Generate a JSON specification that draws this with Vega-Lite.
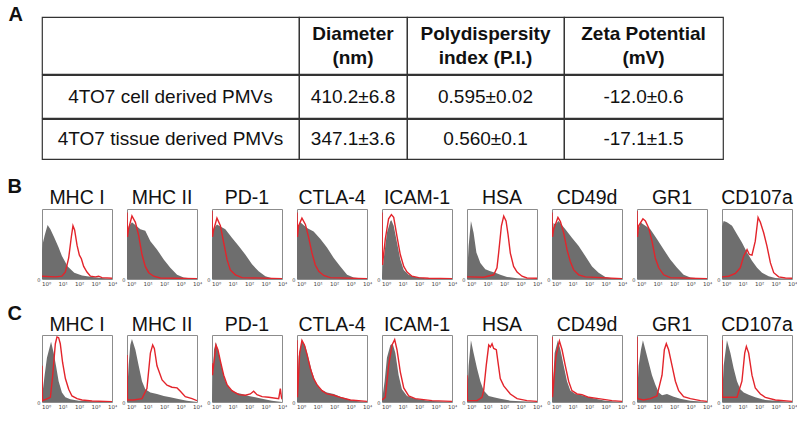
{
"$schema": "https://vega.github.io/schema/vega-lite/v6.json",
"padding": {"left": 7, "top": 5, "right": 0, "bottom": 0},
"spacing": 16,
"datasets": {
"table": [
{"row": "header", "col": "sample", "text": ""},
{"row": "header", "col": "diameter", "text": "Diameter\n(nm)"},
{"row": "header", "col": "pdi", "text": "Polydispersity\nindex (P.I.)"},
{"row": "header", "col": "zeta", "text": "Zeta Potential\n(mV)"},
{"row": "cell", "col": "sample", "text": "4TO7 cell derived PMVs"},
{"row": "cell", "col": "diameter", "text": "410.2±6.8"},
{"row": "cell", "col": "pdi", "text": "0.595±0.02"},
{"row": "cell", "col": "zeta", "text": "-12.0±0.6"},
{"row": "tissue", "col": "sample", "text": "4TO7 tissue derived PMVs"},
{"row": "tissue", "col": "diameter", "text": "347.1±3.6"},
{"row": "tissue", "col": "pdi", "text": "0.560±0.1"},
{"row": "tissue", "col": "zeta", "text": "-17.1±1.5"}
],
"hist": [
{"panel":"B","marker":"MHC I","series":"isotype","logx":-0.25,"pct":40},
{"panel":"B","marker":"MHC I","series":"isotype","logx":-0.21,"pct":50},
{"panel":"B","marker":"MHC I","series":"isotype","logx":-0.09,"pct":62},
{"panel":"B","marker":"MHC I","series":"isotype","logx":0.09,"pct":77},
{"panel":"B","marker":"MHC I","series":"isotype","logx":0.26,"pct":71},
{"panel":"B","marker":"MHC I","series":"isotype","logx":0.5,"pct":59},
{"panel":"B","marker":"MHC I","series":"isotype","logx":0.76,"pct":45},
{"panel":"B","marker":"MHC I","series":"isotype","logx":0.96,"pct":33},
{"panel":"B","marker":"MHC I","series":"isotype","logx":1.31,"pct":18},
{"panel":"B","marker":"MHC I","series":"isotype","logx":1.71,"pct":9},
{"panel":"B","marker":"MHC I","series":"isotype","logx":2.18,"pct":5},
{"panel":"B","marker":"MHC I","series":"isotype","logx":2.79,"pct":3},
{"panel":"B","marker":"MHC I","series":"isotype","logx":3.39,"pct":1.5},
{"panel":"B","marker":"MHC I","series":"isotype","logx":4,"pct":0},
{"panel":"B","marker":"MHC I","series":"PMV","logx":-0.25,"pct":4},
{"panel":"B","marker":"MHC I","series":"PMV","logx":0.56,"pct":3},
{"panel":"B","marker":"MHC I","series":"PMV","logx":0.96,"pct":4},
{"panel":"B","marker":"MHC I","series":"PMV","logx":1.17,"pct":10},
{"panel":"B","marker":"MHC I","series":"PMV","logx":1.37,"pct":30},
{"panel":"B","marker":"MHC I","series":"PMV","logx":1.53,"pct":60},
{"panel":"B","marker":"MHC I","series":"PMV","logx":1.63,"pct":76},
{"panel":"B","marker":"MHC I","series":"PMV","logx":1.73,"pct":70},
{"panel":"B","marker":"MHC I","series":"PMV","logx":1.88,"pct":48},
{"panel":"B","marker":"MHC I","series":"PMV","logx":2.02,"pct":34},
{"panel":"B","marker":"MHC I","series":"PMV","logx":2.14,"pct":29},
{"panel":"B","marker":"MHC I","series":"PMV","logx":2.28,"pct":18},
{"panel":"B","marker":"MHC I","series":"PMV","logx":2.48,"pct":10},
{"panel":"B","marker":"MHC I","series":"PMV","logx":2.69,"pct":4},
{"panel":"B","marker":"MHC I","series":"PMV","logx":2.99,"pct":3},
{"panel":"B","marker":"MHC I","series":"PMV","logx":3.19,"pct":4},
{"panel":"B","marker":"MHC I","series":"PMV","logx":3.39,"pct":2},
{"panel":"B","marker":"MHC I","series":"PMV","logx":4,"pct":1},

{"panel":"B","marker":"MHC II","series":"isotype","logx":-0.25,"pct":60},
{"panel":"B","marker":"MHC II","series":"isotype","logx":-0.15,"pct":75},
{"panel":"B","marker":"MHC II","series":"isotype","logx":0.05,"pct":81},
{"panel":"B","marker":"MHC II","series":"isotype","logx":0.56,"pct":71},
{"panel":"B","marker":"MHC II","series":"isotype","logx":0.86,"pct":69},
{"panel":"B","marker":"MHC II","series":"isotype","logx":1.17,"pct":54},
{"panel":"B","marker":"MHC II","series":"isotype","logx":1.57,"pct":42},
{"panel":"B","marker":"MHC II","series":"isotype","logx":1.98,"pct":28},
{"panel":"B","marker":"MHC II","series":"isotype","logx":2.38,"pct":16},
{"panel":"B","marker":"MHC II","series":"isotype","logx":2.79,"pct":6},
{"panel":"B","marker":"MHC II","series":"isotype","logx":3.19,"pct":2},
{"panel":"B","marker":"MHC II","series":"isotype","logx":4,"pct":0},
{"panel":"B","marker":"MHC II","series":"PMV","logx":-0.25,"pct":95},
{"panel":"B","marker":"MHC II","series":"PMV","logx":-0.22,"pct":60},
{"panel":"B","marker":"MHC II","series":"PMV","logx":-0.15,"pct":72},
{"panel":"B","marker":"MHC II","series":"PMV","logx":0.05,"pct":90},
{"panel":"B","marker":"MHC II","series":"PMV","logx":0.26,"pct":81},
{"panel":"B","marker":"MHC II","series":"PMV","logx":0.46,"pct":62},
{"panel":"B","marker":"MHC II","series":"PMV","logx":0.66,"pct":35},
{"panel":"B","marker":"MHC II","series":"PMV","logx":0.86,"pct":18},
{"panel":"B","marker":"MHC II","series":"PMV","logx":1.07,"pct":9},
{"panel":"B","marker":"MHC II","series":"PMV","logx":1.37,"pct":4},
{"panel":"B","marker":"MHC II","series":"PMV","logx":1.77,"pct":1.5},
{"panel":"B","marker":"MHC II","series":"PMV","logx":4,"pct":0.5},

{"panel":"B","marker":"PD-1","series":"isotype","logx":-0.25,"pct":55},
{"panel":"B","marker":"PD-1","series":"isotype","logx":-0.15,"pct":72},
{"panel":"B","marker":"PD-1","series":"isotype","logx":0.05,"pct":78},
{"panel":"B","marker":"PD-1","series":"isotype","logx":0.56,"pct":71},
{"panel":"B","marker":"PD-1","series":"isotype","logx":0.96,"pct":59},
{"panel":"B","marker":"PD-1","series":"isotype","logx":1.37,"pct":47},
{"panel":"B","marker":"PD-1","series":"isotype","logx":1.77,"pct":35},
{"panel":"B","marker":"PD-1","series":"isotype","logx":2.18,"pct":21},
{"panel":"B","marker":"PD-1","series":"isotype","logx":2.58,"pct":11},
{"panel":"B","marker":"PD-1","series":"isotype","logx":2.99,"pct":4},
{"panel":"B","marker":"PD-1","series":"isotype","logx":3.39,"pct":1},
{"panel":"B","marker":"PD-1","series":"isotype","logx":4,"pct":0},
{"panel":"B","marker":"PD-1","series":"PMV","logx":-0.25,"pct":97},
{"panel":"B","marker":"PD-1","series":"PMV","logx":-0.22,"pct":60},
{"panel":"B","marker":"PD-1","series":"PMV","logx":-0.15,"pct":70},
{"panel":"B","marker":"PD-1","series":"PMV","logx":0.05,"pct":87},
{"panel":"B","marker":"PD-1","series":"PMV","logx":0.26,"pct":76},
{"panel":"B","marker":"PD-1","series":"PMV","logx":0.46,"pct":52},
{"panel":"B","marker":"PD-1","series":"PMV","logx":0.66,"pct":28},
{"panel":"B","marker":"PD-1","series":"PMV","logx":0.86,"pct":13},
{"panel":"B","marker":"PD-1","series":"PMV","logx":1.17,"pct":6},
{"panel":"B","marker":"PD-1","series":"PMV","logx":1.57,"pct":2},
{"panel":"B","marker":"PD-1","series":"PMV","logx":4,"pct":0.5},

{"panel":"B","marker":"CTLA-4","series":"isotype","logx":-0.25,"pct":60},
{"panel":"B","marker":"CTLA-4","series":"isotype","logx":-0.15,"pct":75},
{"panel":"B","marker":"CTLA-4","series":"isotype","logx":-0.05,"pct":81},
{"panel":"B","marker":"CTLA-4","series":"isotype","logx":0.36,"pct":73},
{"panel":"B","marker":"CTLA-4","series":"isotype","logx":0.76,"pct":68},
{"panel":"B","marker":"CTLA-4","series":"isotype","logx":1.17,"pct":57},
{"panel":"B","marker":"CTLA-4","series":"isotype","logx":1.57,"pct":45},
{"panel":"B","marker":"CTLA-4","series":"isotype","logx":1.98,"pct":30},
{"panel":"B","marker":"CTLA-4","series":"isotype","logx":2.38,"pct":18},
{"panel":"B","marker":"CTLA-4","series":"isotype","logx":2.79,"pct":6},
{"panel":"B","marker":"CTLA-4","series":"isotype","logx":3.19,"pct":2},
{"panel":"B","marker":"CTLA-4","series":"isotype","logx":4,"pct":0},
{"panel":"B","marker":"CTLA-4","series":"PMV","logx":-0.25,"pct":95},
{"panel":"B","marker":"CTLA-4","series":"PMV","logx":-0.22,"pct":60},
{"panel":"B","marker":"CTLA-4","series":"PMV","logx":-0.15,"pct":76},
{"panel":"B","marker":"CTLA-4","series":"PMV","logx":0.05,"pct":87},
{"panel":"B","marker":"CTLA-4","series":"PMV","logx":0.26,"pct":78},
{"panel":"B","marker":"CTLA-4","series":"PMV","logx":0.46,"pct":59},
{"panel":"B","marker":"CTLA-4","series":"PMV","logx":0.66,"pct":37},
{"panel":"B","marker":"CTLA-4","series":"PMV","logx":0.86,"pct":20},
{"panel":"B","marker":"CTLA-4","series":"PMV","logx":1.07,"pct":11},
{"panel":"B","marker":"CTLA-4","series":"PMV","logx":1.37,"pct":5},
{"panel":"B","marker":"CTLA-4","series":"PMV","logx":1.77,"pct":2},
{"panel":"B","marker":"CTLA-4","series":"PMV","logx":4,"pct":0.5},

{"panel":"B","marker":"ICAM-1","series":"isotype","logx":-0.25,"pct":4},
{"panel":"B","marker":"ICAM-1","series":"isotype","logx":-0.15,"pct":28},
{"panel":"B","marker":"ICAM-1","series":"isotype","logx":0.05,"pct":66},
{"panel":"B","marker":"ICAM-1","series":"isotype","logx":0.26,"pct":83},
{"panel":"B","marker":"ICAM-1","series":"isotype","logx":0.32,"pct":84},
{"panel":"B","marker":"ICAM-1","series":"isotype","logx":0.46,"pct":76},
{"panel":"B","marker":"ICAM-1","series":"isotype","logx":0.66,"pct":52},
{"panel":"B","marker":"ICAM-1","series":"isotype","logx":0.86,"pct":28},
{"panel":"B","marker":"ICAM-1","series":"isotype","logx":1.07,"pct":13},
{"panel":"B","marker":"ICAM-1","series":"isotype","logx":1.37,"pct":6},
{"panel":"B","marker":"ICAM-1","series":"isotype","logx":1.77,"pct":3},
{"panel":"B","marker":"ICAM-1","series":"isotype","logx":2.38,"pct":1},
{"panel":"B","marker":"ICAM-1","series":"isotype","logx":4,"pct":0},
{"panel":"B","marker":"ICAM-1","series":"PMV","logx":-0.25,"pct":95},
{"panel":"B","marker":"ICAM-1","series":"PMV","logx":-0.22,"pct":20},
{"panel":"B","marker":"ICAM-1","series":"PMV","logx":-0.05,"pct":57},
{"panel":"B","marker":"ICAM-1","series":"PMV","logx":0.15,"pct":86},
{"panel":"B","marker":"ICAM-1","series":"PMV","logx":0.32,"pct":92},
{"panel":"B","marker":"ICAM-1","series":"PMV","logx":0.46,"pct":88},
{"panel":"B","marker":"ICAM-1","series":"PMV","logx":0.66,"pct":61},
{"panel":"B","marker":"ICAM-1","series":"PMV","logx":0.86,"pct":35},
{"panel":"B","marker":"ICAM-1","series":"PMV","logx":1.07,"pct":18},
{"panel":"B","marker":"ICAM-1","series":"PMV","logx":1.27,"pct":10},
{"panel":"B","marker":"ICAM-1","series":"PMV","logx":1.57,"pct":4},
{"panel":"B","marker":"ICAM-1","series":"PMV","logx":1.98,"pct":2},
{"panel":"B","marker":"ICAM-1","series":"PMV","logx":2.58,"pct":1},
{"panel":"B","marker":"ICAM-1","series":"PMV","logx":4,"pct":0.5},

{"panel":"B","marker":"HSA","series":"isotype","logx":-0.25,"pct":4},
{"panel":"B","marker":"HSA","series":"isotype","logx":-0.15,"pct":47},
{"panel":"B","marker":"HSA","series":"isotype","logx":-0.01,"pct":83},
{"panel":"B","marker":"HSA","series":"isotype","logx":0.15,"pct":66},
{"panel":"B","marker":"HSA","series":"isotype","logx":0.32,"pct":38},
{"panel":"B","marker":"HSA","series":"isotype","logx":0.56,"pct":23},
{"panel":"B","marker":"HSA","series":"isotype","logx":0.86,"pct":14},
{"panel":"B","marker":"HSA","series":"isotype","logx":1.17,"pct":11},
{"panel":"B","marker":"HSA","series":"isotype","logx":1.47,"pct":9},
{"panel":"B","marker":"HSA","series":"isotype","logx":1.77,"pct":6},
{"panel":"B","marker":"HSA","series":"isotype","logx":2.18,"pct":3},
{"panel":"B","marker":"HSA","series":"isotype","logx":2.79,"pct":1},
{"panel":"B","marker":"HSA","series":"isotype","logx":4,"pct":0},
{"panel":"B","marker":"HSA","series":"PMV","logx":-0.25,"pct":3},
{"panel":"B","marker":"HSA","series":"PMV","logx":-0.05,"pct":3},
{"panel":"B","marker":"HSA","series":"PMV","logx":0.76,"pct":2.5},
{"panel":"B","marker":"HSA","series":"PMV","logx":1.37,"pct":6},
{"panel":"B","marker":"HSA","series":"PMV","logx":1.57,"pct":16},
{"panel":"B","marker":"HSA","series":"PMV","logx":1.67,"pct":37},
{"panel":"B","marker":"HSA","series":"PMV","logx":1.84,"pct":76},
{"panel":"B","marker":"HSA","series":"PMV","logx":1.98,"pct":90},
{"panel":"B","marker":"HSA","series":"PMV","logx":2.12,"pct":83},
{"panel":"B","marker":"HSA","series":"PMV","logx":2.24,"pct":64},
{"panel":"B","marker":"HSA","series":"PMV","logx":2.38,"pct":37},
{"panel":"B","marker":"HSA","series":"PMV","logx":2.58,"pct":18},
{"panel":"B","marker":"HSA","series":"PMV","logx":2.79,"pct":10},
{"panel":"B","marker":"HSA","series":"PMV","logx":3.09,"pct":4},
{"panel":"B","marker":"HSA","series":"PMV","logx":3.39,"pct":1.5},
{"panel":"B","marker":"HSA","series":"PMV","logx":4,"pct":1},

{"panel":"B","marker":"CD49d","series":"isotype","logx":-0.25,"pct":57},
{"panel":"B","marker":"CD49d","series":"isotype","logx":-0.15,"pct":80},
{"panel":"B","marker":"CD49d","series":"isotype","logx":-0.05,"pct":78},
{"panel":"B","marker":"CD49d","series":"isotype","logx":0.15,"pct":83},
{"panel":"B","marker":"CD49d","series":"isotype","logx":0.56,"pct":71},
{"panel":"B","marker":"CD49d","series":"isotype","logx":0.96,"pct":59},
{"panel":"B","marker":"CD49d","series":"isotype","logx":1.37,"pct":47},
{"panel":"B","marker":"CD49d","series":"isotype","logx":1.77,"pct":33},
{"panel":"B","marker":"CD49d","series":"isotype","logx":2.18,"pct":18},
{"panel":"B","marker":"CD49d","series":"isotype","logx":2.58,"pct":9},
{"panel":"B","marker":"CD49d","series":"isotype","logx":2.99,"pct":3},
{"panel":"B","marker":"CD49d","series":"isotype","logx":3.39,"pct":1},
{"panel":"B","marker":"CD49d","series":"isotype","logx":4,"pct":0},
{"panel":"B","marker":"CD49d","series":"PMV","logx":-0.25,"pct":95},
{"panel":"B","marker":"CD49d","series":"PMV","logx":-0.22,"pct":60},
{"panel":"B","marker":"CD49d","series":"PMV","logx":-0.15,"pct":71},
{"panel":"B","marker":"CD49d","series":"PMV","logx":0.11,"pct":88},
{"panel":"B","marker":"CD49d","series":"PMV","logx":0.26,"pct":82},
{"panel":"B","marker":"CD49d","series":"PMV","logx":0.46,"pct":66},
{"panel":"B","marker":"CD49d","series":"PMV","logx":0.66,"pct":42},
{"panel":"B","marker":"CD49d","series":"PMV","logx":0.86,"pct":25},
{"panel":"B","marker":"CD49d","series":"PMV","logx":1.07,"pct":13},
{"panel":"B","marker":"CD49d","series":"PMV","logx":1.37,"pct":6},
{"panel":"B","marker":"CD49d","series":"PMV","logx":1.77,"pct":3},
{"panel":"B","marker":"CD49d","series":"PMV","logx":4,"pct":0.5},

{"panel":"B","marker":"GR1","series":"isotype","logx":-0.25,"pct":61},
{"panel":"B","marker":"GR1","series":"isotype","logx":-0.05,"pct":81},
{"panel":"B","marker":"GR1","series":"isotype","logx":0.26,"pct":76},
{"panel":"B","marker":"GR1","series":"isotype","logx":0.56,"pct":71},
{"panel":"B","marker":"GR1","series":"isotype","logx":0.96,"pct":57},
{"panel":"B","marker":"GR1","series":"isotype","logx":1.37,"pct":42},
{"panel":"B","marker":"GR1","series":"isotype","logx":1.77,"pct":28},
{"panel":"B","marker":"GR1","series":"isotype","logx":2.18,"pct":16},
{"panel":"B","marker":"GR1","series":"isotype","logx":2.58,"pct":6},
{"panel":"B","marker":"GR1","series":"isotype","logx":2.99,"pct":2},
{"panel":"B","marker":"GR1","series":"isotype","logx":4,"pct":0},
{"panel":"B","marker":"GR1","series":"PMV","logx":-0.25,"pct":97},
{"panel":"B","marker":"GR1","series":"PMV","logx":-0.22,"pct":60},
{"panel":"B","marker":"GR1","series":"PMV","logx":-0.15,"pct":76},
{"panel":"B","marker":"GR1","series":"PMV","logx":0.11,"pct":86},
{"panel":"B","marker":"GR1","series":"PMV","logx":0.26,"pct":83},
{"panel":"B","marker":"GR1","series":"PMV","logx":0.46,"pct":73},
{"panel":"B","marker":"GR1","series":"PMV","logx":0.66,"pct":54},
{"panel":"B","marker":"GR1","series":"PMV","logx":0.86,"pct":30},
{"panel":"B","marker":"GR1","series":"PMV","logx":1.07,"pct":16},
{"panel":"B","marker":"GR1","series":"PMV","logx":1.37,"pct":6},
{"panel":"B","marker":"GR1","series":"PMV","logx":1.77,"pct":2},
{"panel":"B","marker":"GR1","series":"PMV","logx":4,"pct":0.5},

{"panel":"B","marker":"CD107a","series":"isotype","logx":-0.25,"pct":75},
{"panel":"B","marker":"CD107a","series":"isotype","logx":-0.15,"pct":83},
{"panel":"B","marker":"CD107a","series":"isotype","logx":0.05,"pct":81},
{"panel":"B","marker":"CD107a","series":"isotype","logx":0.36,"pct":76},
{"panel":"B","marker":"CD107a","series":"isotype","logx":0.66,"pct":64},
{"panel":"B","marker":"CD107a","series":"isotype","logx":0.96,"pct":52},
{"panel":"B","marker":"CD107a","series":"isotype","logx":1.27,"pct":38},
{"panel":"B","marker":"CD107a","series":"isotype","logx":1.57,"pct":26},
{"panel":"B","marker":"CD107a","series":"isotype","logx":1.88,"pct":16},
{"panel":"B","marker":"CD107a","series":"isotype","logx":2.18,"pct":9},
{"panel":"B","marker":"CD107a","series":"isotype","logx":2.58,"pct":4},
{"panel":"B","marker":"CD107a","series":"isotype","logx":2.99,"pct":1.5},
{"panel":"B","marker":"CD107a","series":"isotype","logx":4,"pct":0},
{"panel":"B","marker":"CD107a","series":"PMV","logx":-0.25,"pct":3},
{"panel":"B","marker":"CD107a","series":"PMV","logx":0.15,"pct":4},
{"panel":"B","marker":"CD107a","series":"PMV","logx":0.56,"pct":8},
{"panel":"B","marker":"CD107a","series":"PMV","logx":0.86,"pct":16},
{"panel":"B","marker":"CD107a","series":"PMV","logx":1.07,"pct":33},
{"panel":"B","marker":"CD107a","series":"PMV","logx":1.27,"pct":42},
{"panel":"B","marker":"CD107a","series":"PMV","logx":1.41,"pct":35},
{"panel":"B","marker":"CD107a","series":"PMV","logx":1.57,"pct":34},
{"panel":"B","marker":"CD107a","series":"PMV","logx":1.77,"pct":54},
{"panel":"B","marker":"CD107a","series":"PMV","logx":1.94,"pct":88},
{"panel":"B","marker":"CD107a","series":"PMV","logx":2.08,"pct":81},
{"panel":"B","marker":"CD107a","series":"PMV","logx":2.28,"pct":66},
{"panel":"B","marker":"CD107a","series":"PMV","logx":2.48,"pct":47},
{"panel":"B","marker":"CD107a","series":"PMV","logx":2.69,"pct":23},
{"panel":"B","marker":"CD107a","series":"PMV","logx":2.89,"pct":9},
{"panel":"B","marker":"CD107a","series":"PMV","logx":3.19,"pct":3},
{"panel":"B","marker":"CD107a","series":"PMV","logx":3.6,"pct":1.5},
{"panel":"B","marker":"CD107a","series":"PMV","logx":4,"pct":1},

{"panel":"C","marker":"MHC I","series":"isotype","logx":-0.25,"pct":7},
{"panel":"C","marker":"MHC I","series":"isotype","logx":-0.09,"pct":40},
{"panel":"C","marker":"MHC I","series":"isotype","logx":0.05,"pct":66},
{"panel":"C","marker":"MHC I","series":"isotype","logx":0.3,"pct":90},
{"panel":"C","marker":"MHC I","series":"isotype","logx":0.46,"pct":73},
{"panel":"C","marker":"MHC I","series":"isotype","logx":0.6,"pct":54},
{"panel":"C","marker":"MHC I","series":"isotype","logx":0.76,"pct":31},
{"panel":"C","marker":"MHC I","series":"isotype","logx":0.96,"pct":14},
{"panel":"C","marker":"MHC I","series":"isotype","logx":1.17,"pct":7},
{"panel":"C","marker":"MHC I","series":"isotype","logx":1.47,"pct":4},
{"panel":"C","marker":"MHC I","series":"isotype","logx":1.98,"pct":2},
{"panel":"C","marker":"MHC I","series":"isotype","logx":4,"pct":0},
{"panel":"C","marker":"MHC I","series":"PMV","logx":-0.25,"pct":54},
{"panel":"C","marker":"MHC I","series":"PMV","logx":-0.22,"pct":2},
{"panel":"C","marker":"MHC I","series":"PMV","logx":0.26,"pct":7},
{"panel":"C","marker":"MHC I","series":"PMV","logx":0.4,"pct":40},
{"panel":"C","marker":"MHC I","series":"PMV","logx":0.56,"pct":87},
{"panel":"C","marker":"MHC I","series":"PMV","logx":0.66,"pct":97},
{"panel":"C","marker":"MHC I","series":"PMV","logx":0.76,"pct":96},
{"panel":"C","marker":"MHC I","series":"PMV","logx":0.86,"pct":87},
{"panel":"C","marker":"MHC I","series":"PMV","logx":1.0,"pct":59},
{"panel":"C","marker":"MHC I","series":"PMV","logx":1.17,"pct":35},
{"panel":"C","marker":"MHC I","series":"PMV","logx":1.37,"pct":19},
{"panel":"C","marker":"MHC I","series":"PMV","logx":1.57,"pct":9},
{"panel":"C","marker":"MHC I","series":"PMV","logx":1.88,"pct":5},
{"panel":"C","marker":"MHC I","series":"PMV","logx":2.18,"pct":3},
{"panel":"C","marker":"MHC I","series":"PMV","logx":2.79,"pct":1.5},
{"panel":"C","marker":"MHC I","series":"PMV","logx":4,"pct":0.5},

{"panel":"C","marker":"MHC II","series":"isotype","logx":-0.25,"pct":10},
{"panel":"C","marker":"MHC II","series":"isotype","logx":-0.15,"pct":55},
{"panel":"C","marker":"MHC II","series":"isotype","logx":-0.05,"pct":85},
{"panel":"C","marker":"MHC II","series":"isotype","logx":0.05,"pct":94},
{"panel":"C","marker":"MHC II","series":"isotype","logx":0.26,"pct":78},
{"panel":"C","marker":"MHC II","series":"isotype","logx":0.46,"pct":54},
{"panel":"C","marker":"MHC II","series":"isotype","logx":0.66,"pct":31},
{"panel":"C","marker":"MHC II","series":"isotype","logx":0.86,"pct":19},
{"panel":"C","marker":"MHC II","series":"isotype","logx":1.17,"pct":14},
{"panel":"C","marker":"MHC II","series":"isotype","logx":1.57,"pct":12},
{"panel":"C","marker":"MHC II","series":"isotype","logx":1.98,"pct":9},
{"panel":"C","marker":"MHC II","series":"isotype","logx":2.38,"pct":7},
{"panel":"C","marker":"MHC II","series":"isotype","logx":2.79,"pct":5},
{"panel":"C","marker":"MHC II","series":"isotype","logx":3.39,"pct":2},
{"panel":"C","marker":"MHC II","series":"isotype","logx":4,"pct":0},
{"panel":"C","marker":"MHC II","series":"PMV","logx":-0.25,"pct":70},
{"panel":"C","marker":"MHC II","series":"PMV","logx":-0.22,"pct":3},
{"panel":"C","marker":"MHC II","series":"PMV","logx":0.15,"pct":3},
{"panel":"C","marker":"MHC II","series":"PMV","logx":0.66,"pct":5},
{"panel":"C","marker":"MHC II","series":"PMV","logx":0.96,"pct":20},
{"panel":"C","marker":"MHC II","series":"PMV","logx":1.17,"pct":73},
{"panel":"C","marker":"MHC II","series":"PMV","logx":1.31,"pct":85},
{"panel":"C","marker":"MHC II","series":"PMV","logx":1.41,"pct":80},
{"panel":"C","marker":"MHC II","series":"PMV","logx":1.57,"pct":54},
{"panel":"C","marker":"MHC II","series":"PMV","logx":1.88,"pct":33},
{"panel":"C","marker":"MHC II","series":"PMV","logx":2.18,"pct":25},
{"panel":"C","marker":"MHC II","series":"PMV","logx":2.48,"pct":22},
{"panel":"C","marker":"MHC II","series":"PMV","logx":2.79,"pct":21},
{"panel":"C","marker":"MHC II","series":"PMV","logx":2.99,"pct":16},
{"panel":"C","marker":"MHC II","series":"PMV","logx":3.29,"pct":8},
{"panel":"C","marker":"MHC II","series":"PMV","logx":3.7,"pct":5},
{"panel":"C","marker":"MHC II","series":"PMV","logx":4,"pct":2},

{"panel":"C","marker":"PD-1","series":"isotype","logx":-0.25,"pct":5},
{"panel":"C","marker":"PD-1","series":"isotype","logx":-0.13,"pct":78},
{"panel":"C","marker":"PD-1","series":"isotype","logx":-0.01,"pct":89},
{"panel":"C","marker":"PD-1","series":"isotype","logx":0.15,"pct":73},
{"panel":"C","marker":"PD-1","series":"isotype","logx":0.36,"pct":50},
{"panel":"C","marker":"PD-1","series":"isotype","logx":0.56,"pct":31},
{"panel":"C","marker":"PD-1","series":"isotype","logx":0.86,"pct":19},
{"panel":"C","marker":"PD-1","series":"isotype","logx":1.17,"pct":14},
{"panel":"C","marker":"PD-1","series":"isotype","logx":1.57,"pct":12},
{"panel":"C","marker":"PD-1","series":"isotype","logx":1.98,"pct":9},
{"panel":"C","marker":"PD-1","series":"isotype","logx":2.38,"pct":7},
{"panel":"C","marker":"PD-1","series":"isotype","logx":2.79,"pct":5},
{"panel":"C","marker":"PD-1","series":"isotype","logx":3.39,"pct":2},
{"panel":"C","marker":"PD-1","series":"isotype","logx":4,"pct":0},
{"panel":"C","marker":"PD-1","series":"PMV","logx":-0.25,"pct":58},
{"panel":"C","marker":"PD-1","series":"PMV","logx":-0.22,"pct":40},
{"panel":"C","marker":"PD-1","series":"PMV","logx":-0.15,"pct":55},
{"panel":"C","marker":"PD-1","series":"PMV","logx":-0.01,"pct":85},
{"panel":"C","marker":"PD-1","series":"PMV","logx":0.11,"pct":78},
{"panel":"C","marker":"PD-1","series":"PMV","logx":0.26,"pct":61},
{"panel":"C","marker":"PD-1","series":"PMV","logx":0.46,"pct":40},
{"panel":"C","marker":"PD-1","series":"PMV","logx":0.66,"pct":26},
{"panel":"C","marker":"PD-1","series":"PMV","logx":0.96,"pct":17},
{"panel":"C","marker":"PD-1","series":"PMV","logx":1.37,"pct":11},
{"panel":"C","marker":"PD-1","series":"PMV","logx":1.77,"pct":10},
{"panel":"C","marker":"PD-1","series":"PMV","logx":2.08,"pct":12},
{"panel":"C","marker":"PD-1","series":"PMV","logx":2.28,"pct":16},
{"panel":"C","marker":"PD-1","series":"PMV","logx":2.48,"pct":11},
{"panel":"C","marker":"PD-1","series":"PMV","logx":2.79,"pct":8},
{"panel":"C","marker":"PD-1","series":"PMV","logx":3.19,"pct":7},
{"panel":"C","marker":"PD-1","series":"PMV","logx":3.8,"pct":5},
{"panel":"C","marker":"PD-1","series":"PMV","logx":3.9,"pct":20},
{"panel":"C","marker":"PD-1","series":"PMV","logx":3.96,"pct":8},
{"panel":"C","marker":"PD-1","series":"PMV","logx":4,"pct":4},

{"panel":"C","marker":"CTLA-4","series":"isotype","logx":-0.25,"pct":2},
{"panel":"C","marker":"CTLA-4","series":"isotype","logx":-0.15,"pct":68},
{"panel":"C","marker":"CTLA-4","series":"isotype","logx":0.05,"pct":92},
{"panel":"C","marker":"CTLA-4","series":"isotype","logx":0.26,"pct":83},
{"panel":"C","marker":"CTLA-4","series":"isotype","logx":0.46,"pct":64},
{"panel":"C","marker":"CTLA-4","series":"isotype","logx":0.66,"pct":45},
{"panel":"C","marker":"CTLA-4","series":"isotype","logx":0.86,"pct":31},
{"panel":"C","marker":"CTLA-4","series":"isotype","logx":1.17,"pct":19},
{"panel":"C","marker":"CTLA-4","series":"isotype","logx":1.57,"pct":14},
{"panel":"C","marker":"CTLA-4","series":"isotype","logx":1.98,"pct":12},
{"panel":"C","marker":"CTLA-4","series":"isotype","logx":2.38,"pct":8},
{"panel":"C","marker":"CTLA-4","series":"isotype","logx":2.79,"pct":5},
{"panel":"C","marker":"CTLA-4","series":"isotype","logx":3.19,"pct":2},
{"panel":"C","marker":"CTLA-4","series":"isotype","logx":4,"pct":0},
{"panel":"C","marker":"CTLA-4","series":"PMV","logx":-0.25,"pct":92},
{"panel":"C","marker":"CTLA-4","series":"PMV","logx":-0.22,"pct":7},
{"panel":"C","marker":"CTLA-4","series":"PMV","logx":-0.09,"pct":73},
{"panel":"C","marker":"CTLA-4","series":"PMV","logx":0.05,"pct":92},
{"panel":"C","marker":"CTLA-4","series":"PMV","logx":0.2,"pct":85},
{"panel":"C","marker":"CTLA-4","series":"PMV","logx":0.36,"pct":71},
{"panel":"C","marker":"CTLA-4","series":"PMV","logx":0.56,"pct":50},
{"panel":"C","marker":"CTLA-4","series":"PMV","logx":0.76,"pct":35},
{"panel":"C","marker":"CTLA-4","series":"PMV","logx":0.96,"pct":26},
{"panel":"C","marker":"CTLA-4","series":"PMV","logx":1.27,"pct":17},
{"panel":"C","marker":"CTLA-4","series":"PMV","logx":1.57,"pct":12},
{"panel":"C","marker":"CTLA-4","series":"PMV","logx":1.98,"pct":10},
{"panel":"C","marker":"CTLA-4","series":"PMV","logx":2.38,"pct":7},
{"panel":"C","marker":"CTLA-4","series":"PMV","logx":2.99,"pct":3},
{"panel":"C","marker":"CTLA-4","series":"PMV","logx":4,"pct":1},

{"panel":"C","marker":"ICAM-1","series":"isotype","logx":-0.25,"pct":2},
{"panel":"C","marker":"ICAM-1","series":"isotype","logx":-0.09,"pct":31},
{"panel":"C","marker":"ICAM-1","series":"isotype","logx":0.05,"pct":66},
{"panel":"C","marker":"ICAM-1","series":"isotype","logx":0.26,"pct":85},
{"panel":"C","marker":"ICAM-1","series":"isotype","logx":0.4,"pct":87},
{"panel":"C","marker":"ICAM-1","series":"isotype","logx":0.56,"pct":73},
{"panel":"C","marker":"ICAM-1","series":"isotype","logx":0.76,"pct":40},
{"panel":"C","marker":"ICAM-1","series":"isotype","logx":0.96,"pct":19},
{"panel":"C","marker":"ICAM-1","series":"isotype","logx":1.27,"pct":9},
{"panel":"C","marker":"ICAM-1","series":"isotype","logx":1.77,"pct":5},
{"panel":"C","marker":"ICAM-1","series":"isotype","logx":2.58,"pct":2},
{"panel":"C","marker":"ICAM-1","series":"isotype","logx":4,"pct":0},
{"panel":"C","marker":"ICAM-1","series":"PMV","logx":-0.25,"pct":3},
{"panel":"C","marker":"ICAM-1","series":"PMV","logx":-0.05,"pct":7},
{"panel":"C","marker":"ICAM-1","series":"PMV","logx":0.15,"pct":54},
{"panel":"C","marker":"ICAM-1","series":"PMV","logx":0.36,"pct":85},
{"panel":"C","marker":"ICAM-1","series":"PMV","logx":0.52,"pct":93},
{"panel":"C","marker":"ICAM-1","series":"PMV","logx":0.66,"pct":78},
{"panel":"C","marker":"ICAM-1","series":"PMV","logx":0.86,"pct":45},
{"panel":"C","marker":"ICAM-1","series":"PMV","logx":1.07,"pct":21},
{"panel":"C","marker":"ICAM-1","series":"PMV","logx":1.37,"pct":9},
{"panel":"C","marker":"ICAM-1","series":"PMV","logx":1.77,"pct":5},
{"panel":"C","marker":"ICAM-1","series":"PMV","logx":2.79,"pct":2},
{"panel":"C","marker":"ICAM-1","series":"PMV","logx":4,"pct":1},

{"panel":"C","marker":"HSA","series":"isotype","logx":-0.25,"pct":2},
{"panel":"C","marker":"HSA","series":"isotype","logx":-0.15,"pct":54},
{"panel":"C","marker":"HSA","series":"isotype","logx":-0.01,"pct":92},
{"panel":"C","marker":"HSA","series":"isotype","logx":0.15,"pct":73},
{"panel":"C","marker":"HSA","series":"isotype","logx":0.36,"pct":50},
{"panel":"C","marker":"HSA","series":"isotype","logx":0.56,"pct":31},
{"panel":"C","marker":"HSA","series":"isotype","logx":0.76,"pct":17},
{"panel":"C","marker":"HSA","series":"isotype","logx":1.07,"pct":9},
{"panel":"C","marker":"HSA","series":"isotype","logx":1.37,"pct":7},
{"panel":"C","marker":"HSA","series":"isotype","logx":1.77,"pct":5},
{"panel":"C","marker":"HSA","series":"isotype","logx":2.38,"pct":2},
{"panel":"C","marker":"HSA","series":"isotype","logx":4,"pct":0},
{"panel":"C","marker":"HSA","series":"PMV","logx":-0.25,"pct":40},
{"panel":"C","marker":"HSA","series":"PMV","logx":-0.22,"pct":2},
{"panel":"C","marker":"HSA","series":"PMV","logx":0.36,"pct":2},
{"panel":"C","marker":"HSA","series":"PMV","logx":0.66,"pct":7},
{"panel":"C","marker":"HSA","series":"PMV","logx":0.76,"pct":17},
{"panel":"C","marker":"HSA","series":"PMV","logx":0.92,"pct":55},
{"panel":"C","marker":"HSA","series":"PMV","logx":1.07,"pct":85},
{"panel":"C","marker":"HSA","series":"PMV","logx":1.17,"pct":82},
{"panel":"C","marker":"HSA","series":"PMV","logx":1.27,"pct":87},
{"panel":"C","marker":"HSA","series":"PMV","logx":1.37,"pct":80},
{"panel":"C","marker":"HSA","series":"PMV","logx":1.53,"pct":78},
{"panel":"C","marker":"HSA","series":"PMV","logx":1.63,"pct":60},
{"panel":"C","marker":"HSA","series":"PMV","logx":1.77,"pct":35},
{"panel":"C","marker":"HSA","series":"PMV","logx":1.98,"pct":24},
{"panel":"C","marker":"HSA","series":"PMV","logx":2.38,"pct":12},
{"panel":"C","marker":"HSA","series":"PMV","logx":2.79,"pct":5},
{"panel":"C","marker":"HSA","series":"PMV","logx":3.39,"pct":2},
{"panel":"C","marker":"HSA","series":"PMV","logx":4,"pct":1},

{"panel":"C","marker":"CD49d","series":"isotype","logx":-0.25,"pct":2},
{"panel":"C","marker":"CD49d","series":"isotype","logx":-0.09,"pct":73},
{"panel":"C","marker":"CD49d","series":"isotype","logx":0.11,"pct":92},
{"panel":"C","marker":"CD49d","series":"isotype","logx":0.26,"pct":78},
{"panel":"C","marker":"CD49d","series":"isotype","logx":0.46,"pct":54},
{"panel":"C","marker":"CD49d","series":"isotype","logx":0.66,"pct":31},
{"panel":"C","marker":"CD49d","series":"isotype","logx":0.86,"pct":17},
{"panel":"C","marker":"CD49d","series":"isotype","logx":1.17,"pct":12},
{"panel":"C","marker":"CD49d","series":"isotype","logx":1.57,"pct":10},
{"panel":"C","marker":"CD49d","series":"isotype","logx":1.98,"pct":7},
{"panel":"C","marker":"CD49d","series":"isotype","logx":2.38,"pct":5},
{"panel":"C","marker":"CD49d","series":"isotype","logx":2.99,"pct":2},
{"panel":"C","marker":"CD49d","series":"isotype","logx":4,"pct":0},
{"panel":"C","marker":"CD49d","series":"PMV","logx":-0.25,"pct":97},
{"panel":"C","marker":"CD49d","series":"PMV","logx":-0.22,"pct":7},
{"panel":"C","marker":"CD49d","series":"PMV","logx":-0.01,"pct":68},
{"panel":"C","marker":"CD49d","series":"PMV","logx":0.2,"pct":91},
{"panel":"C","marker":"CD49d","series":"PMV","logx":0.36,"pct":78},
{"panel":"C","marker":"CD49d","series":"PMV","logx":0.56,"pct":54},
{"panel":"C","marker":"CD49d","series":"PMV","logx":0.76,"pct":31},
{"panel":"C","marker":"CD49d","series":"PMV","logx":0.96,"pct":17},
{"panel":"C","marker":"CD49d","series":"PMV","logx":1.27,"pct":12},
{"panel":"C","marker":"CD49d","series":"PMV","logx":1.57,"pct":11},
{"panel":"C","marker":"CD49d","series":"PMV","logx":1.98,"pct":7},
{"panel":"C","marker":"CD49d","series":"PMV","logx":2.58,"pct":5},
{"panel":"C","marker":"CD49d","series":"PMV","logx":3.39,"pct":2},
{"panel":"C","marker":"CD49d","series":"PMV","logx":4,"pct":1},

{"panel":"C","marker":"GR1","series":"isotype","logx":-0.25,"pct":7},
{"panel":"C","marker":"GR1","series":"isotype","logx":-0.15,"pct":54},
{"panel":"C","marker":"GR1","series":"isotype","logx":-0.01,"pct":78},
{"panel":"C","marker":"GR1","series":"isotype","logx":0.11,"pct":92},
{"panel":"C","marker":"GR1","series":"isotype","logx":0.26,"pct":78},
{"panel":"C","marker":"GR1","series":"isotype","logx":0.46,"pct":59},
{"panel":"C","marker":"GR1","series":"isotype","logx":0.66,"pct":40},
{"panel":"C","marker":"GR1","series":"isotype","logx":0.86,"pct":26},
{"panel":"C","marker":"GR1","series":"isotype","logx":1.07,"pct":14},
{"panel":"C","marker":"GR1","series":"isotype","logx":1.27,"pct":10},
{"panel":"C","marker":"GR1","series":"isotype","logx":1.57,"pct":12},
{"panel":"C","marker":"GR1","series":"isotype","logx":1.98,"pct":8},
{"panel":"C","marker":"GR1","series":"isotype","logx":2.38,"pct":5},
{"panel":"C","marker":"GR1","series":"isotype","logx":2.99,"pct":2},
{"panel":"C","marker":"GR1","series":"isotype","logx":4,"pct":0},
{"panel":"C","marker":"GR1","series":"PMV","logx":-0.25,"pct":97},
{"panel":"C","marker":"GR1","series":"PMV","logx":-0.22,"pct":5},
{"panel":"C","marker":"GR1","series":"PMV","logx":0.15,"pct":3},
{"panel":"C","marker":"GR1","series":"PMV","logx":0.56,"pct":5},
{"panel":"C","marker":"GR1","series":"PMV","logx":0.96,"pct":9},
{"panel":"C","marker":"GR1","series":"PMV","logx":1.27,"pct":40},
{"panel":"C","marker":"GR1","series":"PMV","logx":1.41,"pct":78},
{"panel":"C","marker":"GR1","series":"PMV","logx":1.53,"pct":87},
{"panel":"C","marker":"GR1","series":"PMV","logx":1.67,"pct":78},
{"panel":"C","marker":"GR1","series":"PMV","logx":1.88,"pct":54},
{"panel":"C","marker":"GR1","series":"PMV","logx":2.08,"pct":31},
{"panel":"C","marker":"GR1","series":"PMV","logx":2.28,"pct":17},
{"panel":"C","marker":"GR1","series":"PMV","logx":2.58,"pct":8},
{"panel":"C","marker":"GR1","series":"PMV","logx":2.99,"pct":5},
{"panel":"C","marker":"GR1","series":"PMV","logx":3.6,"pct":2},
{"panel":"C","marker":"GR1","series":"PMV","logx":4,"pct":1},

{"panel":"C","marker":"CD107a","series":"isotype","logx":-0.25,"pct":2},
{"panel":"C","marker":"CD107a","series":"isotype","logx":-0.15,"pct":54},
{"panel":"C","marker":"CD107a","series":"isotype","logx":0.05,"pct":92},
{"panel":"C","marker":"CD107a","series":"isotype","logx":0.26,"pct":73},
{"panel":"C","marker":"CD107a","series":"isotype","logx":0.46,"pct":50},
{"panel":"C","marker":"CD107a","series":"isotype","logx":0.66,"pct":31},
{"panel":"C","marker":"CD107a","series":"isotype","logx":0.86,"pct":19},
{"panel":"C","marker":"CD107a","series":"isotype","logx":1.07,"pct":14},
{"panel":"C","marker":"CD107a","series":"isotype","logx":1.37,"pct":11},
{"panel":"C","marker":"CD107a","series":"isotype","logx":1.77,"pct":7},
{"panel":"C","marker":"CD107a","series":"isotype","logx":2.38,"pct":3},
{"panel":"C","marker":"CD107a","series":"isotype","logx":4,"pct":0},
{"panel":"C","marker":"CD107a","series":"PMV","logx":-0.25,"pct":92},
{"panel":"C","marker":"CD107a","series":"PMV","logx":-0.22,"pct":7},
{"panel":"C","marker":"CD107a","series":"PMV","logx":0.15,"pct":7},
{"panel":"C","marker":"CD107a","series":"PMV","logx":0.66,"pct":7},
{"panel":"C","marker":"CD107a","series":"PMV","logx":0.96,"pct":31},
{"panel":"C","marker":"CD107a","series":"PMV","logx":1.13,"pct":73},
{"panel":"C","marker":"CD107a","series":"PMV","logx":1.23,"pct":83},
{"panel":"C","marker":"CD107a","series":"PMV","logx":1.37,"pct":73},
{"panel":"C","marker":"CD107a","series":"PMV","logx":1.57,"pct":40},
{"panel":"C","marker":"CD107a","series":"PMV","logx":1.77,"pct":21},
{"panel":"C","marker":"CD107a","series":"PMV","logx":2.08,"pct":12},
{"panel":"C","marker":"CD107a","series":"PMV","logx":2.38,"pct":7},
{"panel":"C","marker":"CD107a","series":"PMV","logx":2.99,"pct":3},
{"panel":"C","marker":"CD107a","series":"PMV","logx":4,"pct":1}
]
},
"vconcat": [
{
"title": {"text": "A", "orient": "left", "anchor": "end", "angle": 0, "align": "right", "baseline": "middle", "offset": 4, "dy": -1, "fontSize": 20, "fontWeight": "bold", "color": "#111"},
"spacing": -2.4,
"vconcat": [
 {"spacing": 0, "bounds": "flush", "hconcat": [
  {"width": 257, "height": 57, "view": {"stroke": "#333", "strokeWidth": 1.2}, "data": {"name": "table"}, "transform": [{"filter": "datum.row==='header' && datum.col==='sample'"}], "mark": {"type": "text", "fontSize": 19, "fontWeight": "bold", "lineBreak": "\n", "lineHeight": 24, "dy": -12, "color": "#111"}, "encoding": {"text": {"field": "text"}}},
  {"width": 108, "height": 57, "view": {"stroke": "#333", "strokeWidth": 1.2}, "data": {"name": "table"}, "transform": [{"filter": "datum.row==='header' && datum.col==='diameter'"}], "mark": {"type": "text", "fontSize": 19, "fontWeight": "bold", "lineBreak": "\n", "lineHeight": 24, "dy": -12, "color": "#111"}, "encoding": {"text": {"field": "text"}}},
  {"width": 157, "height": 57, "view": {"stroke": "#333", "strokeWidth": 1.2}, "data": {"name": "table"}, "transform": [{"filter": "datum.row==='header' && datum.col==='pdi'"}], "mark": {"type": "text", "fontSize": 19, "fontWeight": "bold", "lineBreak": "\n", "lineHeight": 24, "dy": -12, "color": "#111"}, "encoding": {"text": {"field": "text"}}},
  {"width": 159, "height": 57, "view": {"stroke": "#333", "strokeWidth": 1.2}, "data": {"name": "table"}, "transform": [{"filter": "datum.row==='header' && datum.col==='zeta'"}], "mark": {"type": "text", "fontSize": 19, "fontWeight": "bold", "lineBreak": "\n", "lineHeight": 24, "dy": -12, "color": "#111"}, "encoding": {"text": {"field": "text"}}}
 ]},
 {"spacing": 0, "bounds": "flush", "hconcat": [
  {"width": 257, "height": 43, "view": {"stroke": "#333", "strokeWidth": 1.2}, "data": {"name": "table"}, "transform": [{"filter": "datum.row==='cell' && datum.col==='sample'"}], "mark": {"type": "text", "fontSize": 19, "color": "#111"}, "encoding": {"text": {"field": "text"}}},
  {"width": 108, "height": 43, "view": {"stroke": "#333", "strokeWidth": 1.2}, "data": {"name": "table"}, "transform": [{"filter": "datum.row==='cell' && datum.col==='diameter'"}], "mark": {"type": "text", "fontSize": 19, "color": "#111"}, "encoding": {"text": {"field": "text"}}},
  {"width": 157, "height": 43, "view": {"stroke": "#333", "strokeWidth": 1.2}, "data": {"name": "table"}, "transform": [{"filter": "datum.row==='cell' && datum.col==='pdi'"}], "mark": {"type": "text", "fontSize": 19, "color": "#111"}, "encoding": {"text": {"field": "text"}}},
  {"width": 159, "height": 43, "view": {"stroke": "#333", "strokeWidth": 1.2}, "data": {"name": "table"}, "transform": [{"filter": "datum.row==='cell' && datum.col==='zeta'"}], "mark": {"type": "text", "fontSize": 19, "color": "#111"}, "encoding": {"text": {"field": "text"}}}
 ]},
 {"spacing": 0, "bounds": "flush", "hconcat": [
  {"width": 257, "height": 40, "view": {"stroke": "#333", "strokeWidth": 1.2}, "data": {"name": "table"}, "transform": [{"filter": "datum.row==='tissue' && datum.col==='sample'"}], "mark": {"type": "text", "fontSize": 19, "color": "#111"}, "encoding": {"text": {"field": "text"}}},
  {"width": 108, "height": 40, "view": {"stroke": "#333", "strokeWidth": 1.2}, "data": {"name": "table"}, "transform": [{"filter": "datum.row==='tissue' && datum.col==='diameter'"}], "mark": {"type": "text", "fontSize": 19, "color": "#111"}, "encoding": {"text": {"field": "text"}}},
  {"width": 157, "height": 40, "view": {"stroke": "#333", "strokeWidth": 1.2}, "data": {"name": "table"}, "transform": [{"filter": "datum.row==='tissue' && datum.col==='pdi'"}], "mark": {"type": "text", "fontSize": 19, "color": "#111"}, "encoding": {"text": {"field": "text"}}},
  {"width": 159, "height": 40, "view": {"stroke": "#333", "strokeWidth": 1.2}, "data": {"name": "table"}, "transform": [{"filter": "datum.row==='tissue' && datum.col==='zeta'"}], "mark": {"type": "text", "fontSize": 19, "color": "#111"}, "encoding": {"text": {"field": "text"}}}
 ]}
]
},
{
"title": {"text": "B", "orient": "left", "anchor": "end", "angle": 0, "align": "right", "baseline": "bottom", "offset": 0, "dy": 9, "fontSize": 20, "fontWeight": "bold", "color": "#111"},
"data": {"name": "hist"},
"transform": [{"filter": "datum.panel==='B'"}],
"facet": {
 "column": {"field": "marker", "type": "nominal", "title": null, "sort": ["MHC I","MHC II","PD-1","CTLA-4","ICAM-1","HSA","CD49d","GR1","CD107a"], "header": {"labelFontSize": 19.5, "labelPadding": 1, "labelColor": "#111"}}
},
"spacing": {"column": 15},
"bounds": "flush",
"resolve": {"axis": {"y": "independent"}},
"spec": {
 "width": 70, "height": 70,
 "layer": [
  {"transform": [{"filter": "datum.series==='isotype'"}],
   "mark": {"type": "area", "color": "#6e6e6e", "clip": true},
   "encoding": {
    "x": {"field": "logx", "type": "quantitative", "scale": {"domain": [-0.25, 4], "nice": false, "zero": false}, "axis": {"values": [0,1,2,3,4], "labelExpr": "'10' + ['⁰','¹','²','³','⁴'][datum.value]", "labelFontSize": 5.5, "labelPadding": 2, "labelOverlap": false, "labelFlush": false}},
    "y": {"field": "pct", "type": "quantitative", "scale": {"domain": [0, 100], "nice": false}, "axis": {"values": [0], "labelFontSize": 5, "labelPadding": 2}}
   }},
  {"transform": [{"filter": "datum.series==='PMV'"}],
   "mark": {"type": "line", "color": "#e3242b", "strokeWidth": 1.4, "clip": true},
   "encoding": {
    "x": {"field": "logx", "type": "quantitative", "axis": {"values": [0,1,2,3,4], "labelExpr": "'10' + ['⁰','¹','²','³','⁴'][datum.value]", "labelFontSize": 5.5, "labelPadding": 2, "labelOverlap": false, "labelFlush": false}},
    "y": {"field": "pct", "type": "quantitative", "axis": {"values": [0], "labelFontSize": 5, "labelPadding": 2}}
   }}
 ]
}
},
{
"title": {"text": "C", "orient": "left", "anchor": "end", "angle": 0, "align": "right", "baseline": "bottom", "offset": 0, "dy": 9, "fontSize": 20, "fontWeight": "bold", "color": "#111"},
"data": {"name": "hist"},
"transform": [{"filter": "datum.panel==='C'"}],
"facet": {
 "column": {"field": "marker", "type": "nominal", "title": null, "sort": ["MHC I","MHC II","PD-1","CTLA-4","ICAM-1","HSA","CD49d","GR1","CD107a"], "header": {"labelFontSize": 19.5, "labelPadding": 0, "labelColor": "#111"}}
},
"spacing": {"column": 15},
"bounds": "flush",
"resolve": {"axis": {"y": "independent"}},
"spec": {
 "width": 70, "height": 67,
 "layer": [
  {"transform": [{"filter": "datum.series==='isotype'"}],
   "mark": {"type": "area", "color": "#6e6e6e", "clip": true},
   "encoding": {
    "x": {"field": "logx", "type": "quantitative", "scale": {"domain": [-0.25, 4], "nice": false, "zero": false}, "axis": {"values": [0,1,2,3,4], "labelExpr": "'10' + ['⁰','¹','²','³','⁴'][datum.value]", "labelFontSize": 5.5, "labelPadding": 2, "labelOverlap": false, "labelFlush": false}},
    "y": {"field": "pct", "type": "quantitative", "scale": {"domain": [0, 100], "nice": false}, "axis": {"values": [0], "labelFontSize": 5, "labelPadding": 2}}
   }},
  {"transform": [{"filter": "datum.series==='PMV'"}],
   "mark": {"type": "line", "color": "#e3242b", "strokeWidth": 1.4, "clip": true},
   "encoding": {
    "x": {"field": "logx", "type": "quantitative", "axis": {"values": [0,1,2,3,4], "labelExpr": "'10' + ['⁰','¹','²','³','⁴'][datum.value]", "labelFontSize": 5.5, "labelPadding": 2, "labelOverlap": false, "labelFlush": false}},
    "y": {"field": "pct", "type": "quantitative", "axis": {"values": [0], "labelFontSize": 5, "labelPadding": 2}}
   }}
 ]
}
}
],
"config": {
 "font": "Liberation Sans",
 "view": {"stroke": "#8c8c8c", "strokeWidth": 1},
 "axis": {"grid": false, "domain": false, "ticks": false, "title": null, "labelFont": "DejaVu Sans", "labelColor": "#444", "labelOverlap": false},
 "header": {"labelFont": "Liberation Sans"}
}
}
